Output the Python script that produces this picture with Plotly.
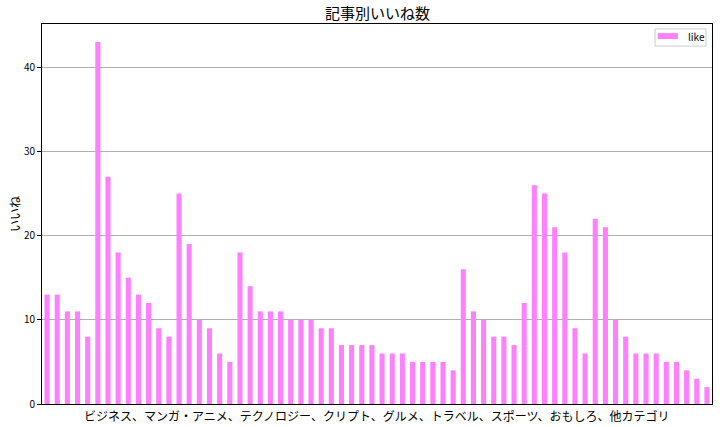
import plotly.graph_objects as go

title_text = "記事別いいね数"
x_label = "ビジネス、マンガ・アニメ、テクノロジー、クリプト、グルメ、トラベル、スポーツ、おもしろ、他カテゴリ"
y_label = "いいね"
series_name = "like"
likes = [13, 13, 11, 11, 8, 43, 27, 18, 15, 13, 12, 9, 8, 25, 19, 10, 9, 6, 5, 18, 14,
         11, 11, 11, 10, 10, 10, 9, 9, 7, 7, 7, 7, 6, 6, 6, 5, 5, 5, 5, 4,
         16, 11, 10, 8, 8, 7, 12, 26, 25, 21, 18, 9, 6, 22, 21, 10, 8, 6, 6, 6, 5, 5, 4, 3, 2]
articles = list(range(len(likes)))
y_ticks = [0, 10, 20, 30, 40]

FONT = "Noto Sans CJK JP, DejaVu Sans, sans-serif"
BAR_COLOR = "#ff80ff"

fig = go.Figure()
fig.add_trace(go.Bar(x=articles, y=likes, name=series_name, width=0.5,
                     marker=dict(color=BAR_COLOR, line=dict(width=0)),
                     showlegend=False))

fig.update_layout(
    width=722, height=427,
    margin=dict(l=42, r=10, t=24, b=23, autoexpand=False),
    paper_bgcolor="white", plot_bgcolor="white",
    font=dict(family=FONT, size=11, color="black"),
    showlegend=False,
    xaxis=dict(range=[-0.5, len(likes) - 0.5], showticklabels=False, ticks="",
               showgrid=False, zeroline=False, showline=True, mirror=True,
               linecolor="black", linewidth=1, automargin=False),
    yaxis=dict(range=[0, max(likes) * 1.05], tickvals=y_ticks, ticks="outside", ticklen=4,
               tickcolor="black", showgrid=True, gridcolor="#b0b0b0", gridwidth=1,
               zeroline=False, showline=True, mirror=True, linecolor="black", linewidth=1,
               tickfont=dict(size=10, family=FONT), automargin=False),
    shapes=[
        # legend frame
        dict(type="rect", xref="paper", yref="paper", x0=0.915, x1=0.991, y0=0.942, y1=0.987,
             line=dict(color="#cccccc", width=1), fillcolor="rgba(255,255,255,0.8)", layer="above"),
        # legend swatch
        dict(type="rect", xref="paper", yref="paper", x0=0.919, x1=0.949, y0=0.9605, y1=0.976,
             line=dict(width=0), fillcolor=BAR_COLOR, layer="above"),
    ],
    annotations=[
        dict(text=title_text, xref="paper", yref="paper", x=0.5, y=1, yshift=12,
             xanchor="center", yanchor="middle", showarrow=False,
             font=dict(size=15, family=FONT, color="black")),
        dict(text=x_label, xref="paper", yref="paper", x=0.5, y=0, yshift=-11,
             xanchor="center", yanchor="middle", showarrow=False,
             font=dict(size=12, family=FONT, color="black")),
        dict(text=y_label, xref="paper", yref="paper", x=0, xshift=-28, y=0.5,
             xanchor="center", yanchor="middle", textangle=-90, showarrow=False,
             font=dict(size=12, family=FONT, color="black")),
        dict(text=series_name, xref="paper", yref="paper", x=0.961, y=0.967,
             xanchor="left", yanchor="middle", showarrow=False,
             font=dict(size=10, family=FONT, color="black")),
    ],
)

fig.write_html("out.html", config={"displayModeBar": False},
               post_script="document.body.style.margin='0';document.body.style.overflow='hidden';")
